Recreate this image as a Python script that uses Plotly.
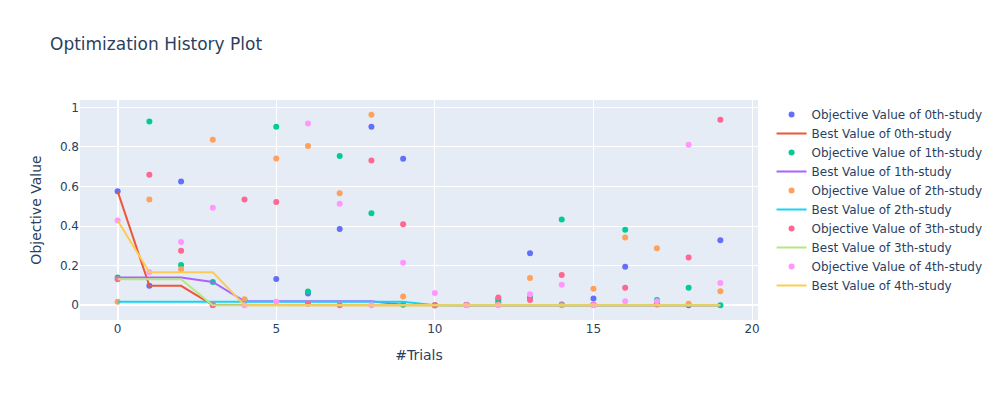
import numpy as np
import plotly.graph_objects as go

trials = list(range(20))

# objective values, one list per study
study_0 = [0.576, 0.098, 0.626, 0.001, 0.025, 0.133, 0.059, 0.386, 0.902, 0.741,
           0.0, 0.002, 0.029, 0.263, 0.004, 0.034, 0.194, 0.01, 0.0, 0.328]
study_1 = [0.14, 0.929, 0.204, 0.118, 0.02, 0.902, 0.069, 0.754, 0.465, 0.003,
           0.0, 0.001, 0.015, 0.039, 0.434, 0.002, 0.382, 0.027, 0.088, 0.0]
study_2 = [0.018, 0.534, 0.182, 0.837, 0.03, 0.742, 0.805, 0.566, 0.963, 0.044,
           0.0, 0.001, 0.003, 0.138, 0.0, 0.084, 0.342, 0.288, 0.008, 0.071]
study_3 = [0.131, 0.66, 0.276, 0.0, 0.534, 0.522, 0.007, 0.0, 0.732, 0.409,
           0.0, 0.001, 0.039, 0.027, 0.153, 0.002, 0.089, 0.004, 0.241, 0.938]
study_4 = [0.428, 0.167, 0.32, 0.493, 0.0, 0.018, 0.919, 0.513, 0.0, 0.215,
           0.062, 0.0, 0.0, 0.056, 0.104, 0.0, 0.02, 0.02, 0.811, 0.113]

studies = [study_0, study_1, study_2, study_3, study_4]

fig = go.Figure()
for i, vals in enumerate(studies):
    # best so far (minimize)
    best = np.minimum.accumulate(np.array(vals))
    fig.add_trace(go.Scatter(
        x=trials,
        y=vals,
        mode='markers',
        name=f'Objective Value of {i}th-study',
    ))
    fig.add_trace(go.Scatter(
        x=trials,
        y=best,
        mode='lines',
        name=f'Best Value of {i}th-study',
    ))

# page body has an 8px margin, so shrink the figure and its top/left margins by 8
fig.update_layout(
    title=dict(text="Optimization History Plot", x=42 / 992, xanchor='left',
               y=1 - 36 / 392, yanchor='middle'),
    xaxis_title="#Trials",
    yaxis_title="Objective Value",
    font=dict(family="DejaVu Sans"),
    width=992,
    height=392,
    margin=dict(l=72, t=92, r=80, b=80),
)

fig.write_html("out.html")
